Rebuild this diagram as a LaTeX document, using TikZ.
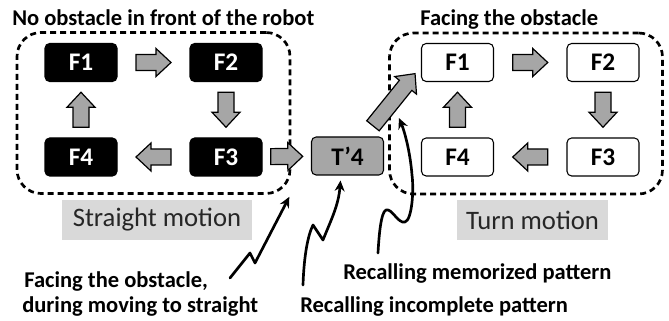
\documentclass[tikz,border=0pt]{standalone}
\usepackage{fontspec}
\setmainfont{Carlito}
\usetikzlibrary{arrows.meta,calc}
\definecolor{boxgray}{HTML}{A6A6A6}
\definecolor{tagbg}{HTML}{D9D9D9}
\definecolor{tagink}{HTML}{262626}
\tikzset{
  darkbox/.style={draw=black,fill=black,text=white,rounded corners=3.5pt,line width=0.8pt,
                  minimum width=54pt,minimum height=28.5pt,inner sep=0pt,
                  font=\fontsize{19}{22}\selectfont\bfseries},
  lightbox/.style={darkbox,fill=white,text=black},
  transbox/.style={darkbox,fill=boxgray,text=black},
  groupbox/.style={draw=black,line width=2pt,dash pattern=on 4.5pt off 3pt,
                   rounded corners=18pt,minimum width=204.75pt,minimum height=120.75pt,inner sep=0pt},
  tagbox/.style={fill=tagbg,text=tagink,inner sep=0pt,minimum height=30pt,
                 font=\fontsize{20}{24}\selectfont},
  notetext/.style={inner sep=0pt,anchor=base west,font=\fontsize{16.9}{20}\selectfont\bfseries},
  zigarr/.style={-{Stealth[length=8pt,width=7.5pt]},line width=2pt,line join=round,line cap=round},
  blockfill/.style={draw=black,fill=boxgray,line width=0.9pt,line join=miter},
  pics/blockarr/.style={code={
    \path[blockfill] (-#1/2,-8) -- (#1/2-15,-8) -- (#1/2-15,-14) -- (#1/2,0)
      -- (#1/2-15,14) -- (#1/2-15,8) -- (-#1/2,8) -- cycle;}},
  onpath/.style={midway,sloped,allow upside down}
}
\begin{document}
\begin{tikzpicture}[x=0.75pt,y=-0.75pt]
  \useasboundingbox (0,0) rectangle (669,321);
  % dashed groups and their titles
  \node[groupbox] (straightgrp) at (153.5,113) {};
  \node[groupbox] (turngrp) at (526,113.5) {};
  \node[notetext] (straighttitle) at (12,26) {No obstacle in front of the robot};
  \node[notetext] (turntitle) at (420,26) {Facing the obstacle};
  % straight motion frames
  \node[darkbox] (lf1) at (81,62.5) {F1};
  \node[darkbox] (lf2) at (226,62.5) {F2};
  \node[darkbox] (lf3) at (226,157) {F3};
  \node[darkbox] (lf4) at (81,157) {F4};
  % turn motion frames
  \node[lightbox] (rf1) at (457.5,62.5) {F1};
  \node[lightbox] (rf2) at (603,62.5) {F2};
  \node[lightbox] (rf3) at (603,157) {F3};
  \node[lightbox] (rf4) at (457.5,157) {F4};
  % transition frame
  \node[transbox] (t4) at (347.5,156) {T’4};
  % block arrows
  \path (lf1) -- (lf2) pic[onpath]{blockarr=35};
  \path (lf2) -- (lf3) pic[onpath]{blockarr=35};
  \path (lf3) -- (lf4) pic[onpath]{blockarr=35};
  \path (lf4) -- (lf1) pic[onpath]{blockarr=35};
  \path (rf1) -- (rf2) pic[onpath]{blockarr=35};
  \path (rf2) -- (rf3) pic[onpath]{blockarr=35};
  \path (rf3) -- (rf4) pic[onpath]{blockarr=35};
  \path (rf4) -- (rf1) pic[onpath]{blockarr=35};
  \path (lf3) -- (t4) pic[onpath]{blockarr=32};
  \path ($(t4.north east)+(-10,-12)$) -- ($(rf1.west)+(-7,12.5)$) pic[onpath]{blockarr=67};
  % motion tags
  \node[tagbox,minimum width=142.5pt] (straighttag) at (157,220) {Straight motion};
  \node[tagbox,minimum width=113pt] (turntag) at (532.5,220) {Turn motion};
  % notes
  \node[notetext] (facenote) at (24,287) {Facing the obstacle,};
  \node[notetext] (movenote) at (22,313) {during moving to straight};
  \node[notetext] (memonote) at (343,280) {Recalling memorized pattern};
  \node[notetext] (partnote) at (300,313) {Recalling incomplete pattern};
  % zigzag pointers
  \coordinate (facetail) at (230,278);
  \coordinate (parttail) at (303,285);
  \coordinate (memotail) at (378,253);
  \draw[zigarr] (facetail) -- ++(20,-25) -- ++(5,10) -- ($(straightgrp.south east)+(-2,2)$);
  \draw[zigarr] (parttail) .. controls +(1,-30) and +(-5,10) .. ++(10,-60)
    -- ++(10,15) .. controls +(8,-20) and +(-2,25) .. ($(t4.south)+(-7,5)$);
  \draw[zigarr] (memotail) .. controls (379,235) and (381,212) .. (386,210)
    .. controls (392,208) and (398,224) .. (405,222)
    .. controls (412,220) and (414,190) .. (412,175)
    .. controls (410,150) and (404,130) .. ($(rf1.south west)+(-22,36)$);
\end{tikzpicture}
\end{document}
